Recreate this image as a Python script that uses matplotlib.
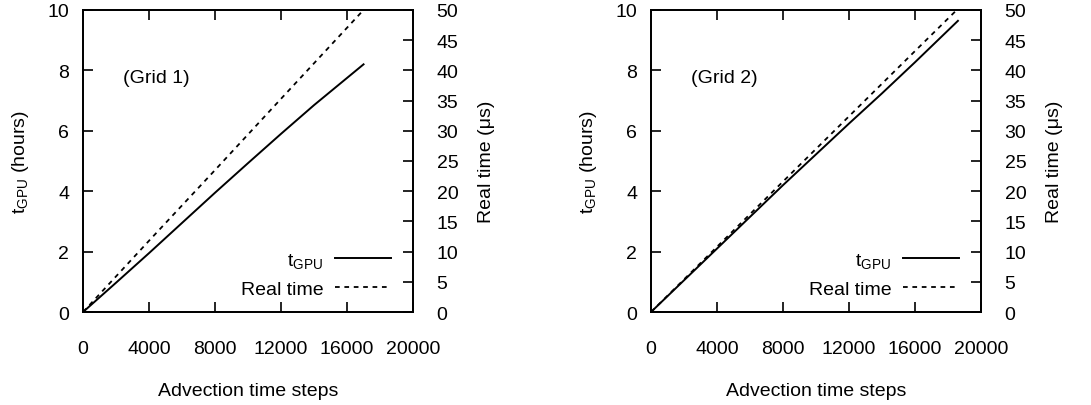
import matplotlib.pyplot as plt

plt.rcParams['font.family'] = ['Liberation Sans', 'DejaVu Sans']
plt.rcParams['font.size'] = 14
plt.rcParams['mathtext.default'] = 'regular'

# Grid 1
g1_steps = [0, 2000, 4000, 6000, 8000, 10000, 12000, 14000, 16000, 17000]
g1_tgpu = [0, 0.97, 1.95, 2.95, 3.95, 4.93, 5.9, 6.85, 7.75, 8.2]
g1_real_steps = [0, 4000, 8000, 12000, 17000]
g1_real = [0, 11.8, 23.5, 35.3, 50]

# Grid 2
g2_steps = [0, 2000, 4000, 6000, 8000, 10000, 12000, 14000, 16000, 18600]
g2_tgpu = [0, 1.05, 2.1, 3.15, 4.2, 5.22, 6.24, 7.24, 8.27, 9.64]
g2_real_steps = [0, 4000, 8000, 12000, 16000, 18530]
g2_real = [0, 10.8, 21.6, 32.4, 43.2, 50]

panels = [
    ("(Grid 1)", g1_steps, g1_tgpu, g1_real_steps, g1_real),
    ("(Grid 2)", g2_steps, g2_tgpu, g2_real_steps, g2_real),
]
lefts = [0.0761, 0.5967]

fig = plt.figure(figsize=(10.91, 4.06), dpi=100)

for (tag, xs, ys, xr, yr), left in zip(panels, lefts):
    ax = fig.add_axes([left, 0.229, 0.3025, 0.744])
    ax2 = ax.twinx()
    l1, = ax.plot(xs, ys, color='black', lw=1.4)
    l2, = ax2.plot(xr, yr, color='black', lw=1.3, linestyle=(0, (2.6, 2.6)))
    ax.set_xlim(0, 20000)
    ax.set_ylim(0, 10)
    ax2.set_ylim(0, 50)
    ax.set_xticks([0, 4000, 8000, 12000, 16000, 20000])
    ax.set_yticks([0, 2, 4, 6, 8, 10])
    ax2.set_yticks(range(0, 51, 5))
    ax.tick_params(axis='x', direction='in', length=7, width=1.2, top=True, pad=20)
    ax.tick_params(axis='y', direction='in', length=7, width=1.2, pad=10)
    ax2.tick_params(axis='y', direction='in', length=7, width=1.2, pad=17)
    for a in (ax, ax2):
        for s in a.spines.values():
            s.set_linewidth(1.3)
    ax.set_xlabel('Advection time steps', labelpad=18)
    ax.set_ylabel(r'$t_{GPU}$ (hours)', labelpad=12)
    ax2.set_ylabel('Real time (μs)', labelpad=14)
    ax.text(0.121, 0.778, tag, transform=ax.transAxes, va='center', fontsize=14)
    ax2.legend([l1, l2], [r'$t_{GPU}$', 'Real time'], loc='lower right',
               frameon=False, markerfirst=False, handlelength=2.9,
               handletextpad=0.6, labelspacing=0.5, borderaxespad=0.5,
               bbox_to_anchor=(0.987, -0.01))

fig.savefig('out.png', dpi=100)
